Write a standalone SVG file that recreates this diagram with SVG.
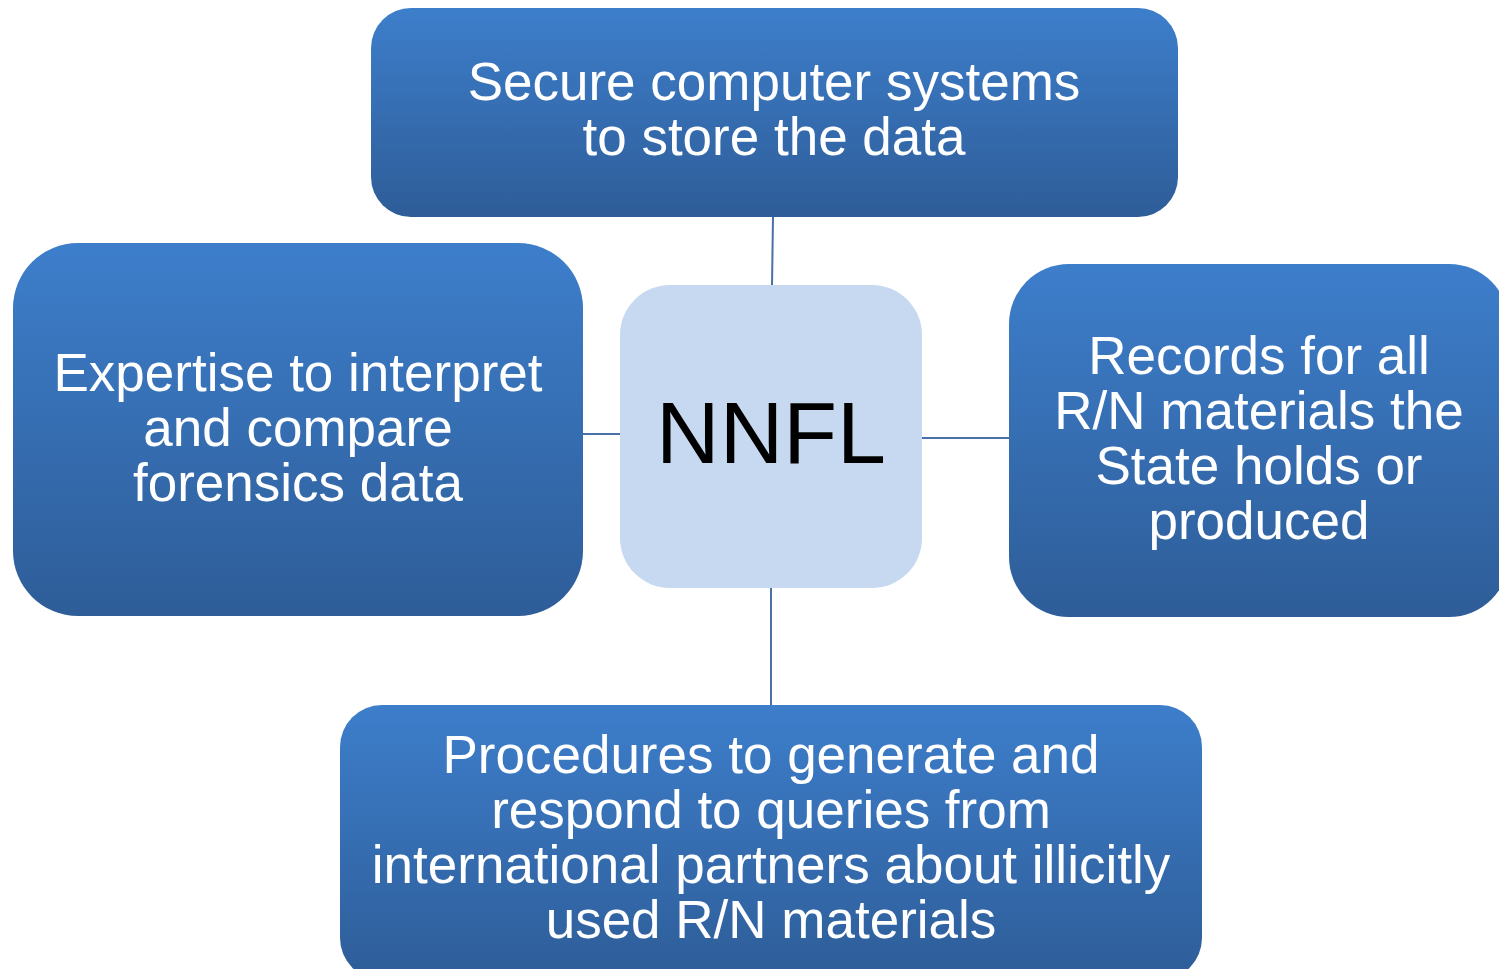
<svg xmlns="http://www.w3.org/2000/svg" width="1499" height="969" viewBox="0 0 1499 969">
<defs>
<linearGradient id="g" x1="0" y1="0" x2="0" y2="1">
<stop offset="0" stop-color="#3D7ECB"/>
<stop offset="1" stop-color="#2E5D98"/>
</linearGradient>
</defs>
<style>
.box{fill:url(#g);}
.t{font-family:"Liberation Sans",Arial,sans-serif;font-size:53px;fill:#FFFFFF;text-anchor:middle;}
.c{fill:#C6D9F0;}
.ct{font-family:"Liberation Sans",Arial,sans-serif;font-size:88px;fill:#000000;text-anchor:middle;}
.ln{stroke:#4A70A8;stroke-width:2;fill:none;}
</style>
<rect width="1499" height="969" fill="#FFFFFF"/>
<g id="connectors">
<line class="ln" x1="773" y1="217" x2="772" y2="286"/>
<line class="ln" x1="583" y1="434" x2="621" y2="434"/>
<line class="ln" x1="921" y1="438" x2="1010" y2="438"/>
<line class="ln" x1="771" y1="587" x2="771" y2="706"/>
</g>
<g id="node-top">
<rect class="box" x="371" y="8" width="807" height="209" rx="40" ry="40"/>
<text class="t" x="774" y="100">Secure computer systems</text>
<text class="t" x="774" y="155">to store the data</text>
</g>
<g id="node-left">
<rect class="box" x="13" y="243" width="570" height="373" rx="65" ry="65"/>
<text class="t" x="298" y="391">Expertise to interpret</text>
<text class="t" x="298" y="446">and compare</text>
<text class="t" x="298" y="501">forensics data</text>
</g>
<g id="node-right">
<rect class="box" x="1009" y="264" width="500" height="353" rx="60" ry="60"/>
<text class="t" x="1259" y="374">Records for all</text>
<text class="t" x="1259" y="429">R/N materials the</text>
<text class="t" x="1259" y="484">State holds or</text>
<text class="t" x="1259" y="539">produced</text>
</g>
<g id="node-bottom">
<rect class="box" x="340" y="705" width="862" height="275" rx="42" ry="42"/>
<text class="t" x="771" y="773">Procedures to generate and</text>
<text class="t" x="771" y="828">respond to queries from</text>
<text class="t" x="771" y="883">international partners about illicitly</text>
<text class="t" x="771" y="938">used R/N materials</text>
</g>
<g id="node-center">
<rect class="c" x="620" y="285" width="302" height="303" rx="50" ry="50"/>
<text class="ct" x="771" y="463">NNFL</text>
</g>
</svg>
